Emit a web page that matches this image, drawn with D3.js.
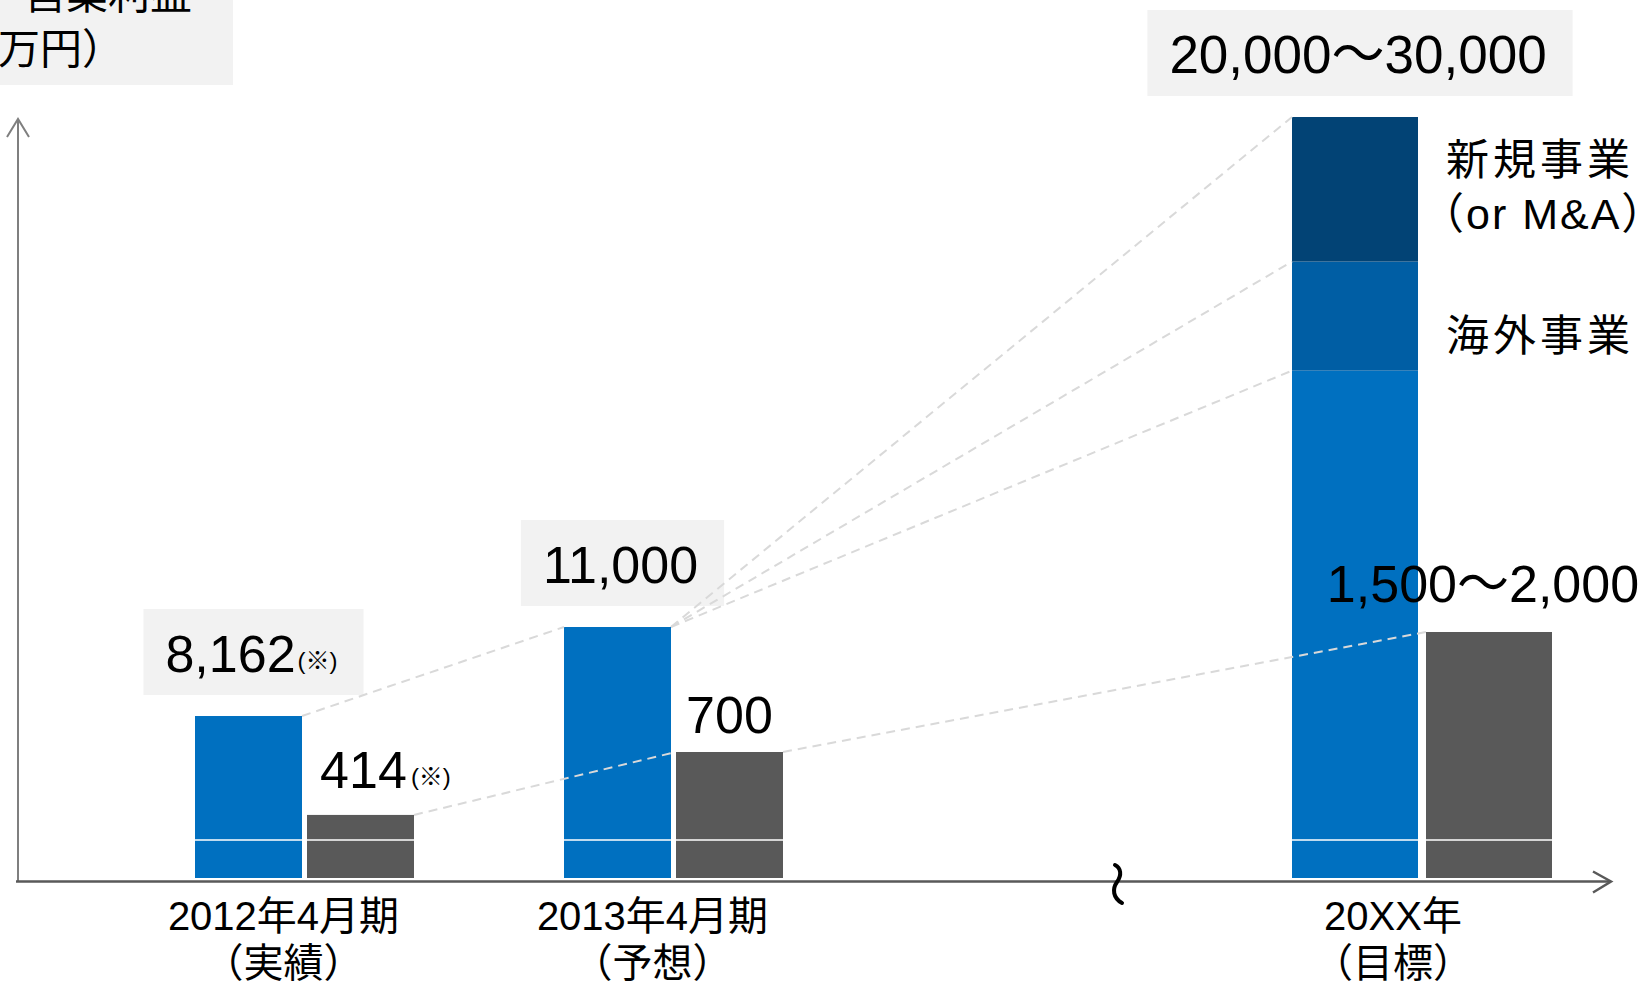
<!DOCTYPE html>
<html>
<head>
<meta charset="utf-8">
<script src="https://cdn.jsdelivr.net/npm/d3@7"></script>
<style>
  html, body { margin: 0; padding: 0; background: #fff; overflow: hidden; }
  svg { display: block; }
  text { font-family: "Liberation Sans", Arial, "Noto Sans CJK JP", sans-serif; fill: #000; }
  .cjk { font-family: "Noto Sans CJK JP", sans-serif; }
</style>
</head>
<body>
<svg id="chart" width="1646" height="983"></svg>
<script>
// Periods along the horizontal axis and their notes
const periods = ["2012年4月期", "2013年4月期", "20XX年"];
const periodNotes = ["（実績）", "（予想）", "（目標）"];

// Left (blue) and right (grey) bars for the reported / forecast periods, 万円
const blueValues = [8162, 11000];
const greyValues = [414, 700];
const noteFlags = [true, false, false];
const noteMark = "(※)";

// 20XX target: ranges and the split of the blue bar
const targetBlueRange = [20000, 30000];
const targetGreyRange = [1500, 2000];
const targetSegments = ["国内事業", "海外事業", "新規事業"];
const targetSegmentValues = [20000, 4300, 5700];
const segmentLabelLines = [[], ["海外事業"], ["新規事業", "（or M&A）"]];

// Axis title lines
const axisTitleLines = ["営業利益", "万円）"];

// ---------------------------------------------------------------
const svg = d3.select("#chart");
const fmt = d3.format(",");

const colors = {
  blue: "#0070c0",
  segments: ["#0070c0", "#005ea4", "#024375"],
  grey: "#595959",
  box: "#f2f2f2",
  dash: "#d9d9d9"
};

const axisY = 881.5, axisLeft = 16, axisRight = 1611;
const yAxisX = 18, yAxisTop = 119;
const barFloor = 878, breakY = 840;

// horizontal placement: piecewise scale, the target sits beyond the axis break
const x = d3.scaleLinear().domain([0, 1, 2]).range([304.5, 673.5, 1422]);

const actualBar = { w: 107, gap: 5, labelShift: -21 };
const targetBar = { w: 126, gap: 8, labelShift: -29 };
function geom(i) {
  const g = i < 2 ? actualBar : targetBar;
  const c = x(i);
  return { c, w: g.w, gap: g.gap, labelShift: g.labelShift,
           blueX: c - g.gap / 2 - g.w, greyX: c + g.gap / 2 };
}
const G = periods.map((p, i) => geom(i));

// vertical scales (the lower part of every bar is cut by the break line)
const yBlue = d3.scaleLinear().domain([0, d3.max(blueValues)]).range([972, 627]);
const yGrey = d3.scaleLinear().domain([0, d3.max(greyValues)]).range([906, 752]);
const yBlueT = d3.scaleLinear().domain([0, targetBlueRange[1]]).range([barFloor, 117]);
const yGreyT = d3.scaleLinear().domain([0, targetGreyRange[1]]).range([barFloor, 632]);

// stacked segments of the target bar
let acc = 0;
const segs = targetSegmentValues.map((v, k) => {
  const s = { k, name: targetSegments[k], y0: acc, y1: acc + v };
  acc += v;
  return s;
});

// ---------------- axis title ----------------
svg.append("rect").attr("x", 0).attr("y", 0).attr("width", 233).attr("height", 85)
  .attr("fill", colors.box);
svg.append("text").attr("class", "cjk").attr("x", 24).attr("y", 9)
  .attr("font-size", 42).text(axisTitleLines[0]);
svg.append("text").attr("class", "cjk").attr("x", -2).attr("y", 64)
  .attr("font-size", 42).text(axisTitleLines[1]);

// ---------------- bars ----------------
const gBars = svg.append("g");
blueValues.forEach((v, i) => {
  gBars.append("rect").attr("x", G[i].blueX).attr("y", yBlue(v))
    .attr("width", G[i].w).attr("height", barFloor - yBlue(v)).attr("fill", colors.blue);
});
greyValues.forEach((v, i) => {
  gBars.append("rect").attr("x", G[i].greyX).attr("y", yGrey(v))
    .attr("width", G[i].w).attr("height", barFloor - yGrey(v)).attr("fill", colors.grey);
});
gBars.selectAll("rect.seg").data(segs).join("rect").attr("class", "seg")
  .attr("x", G[2].blueX).attr("y", d => yBlueT(d.y1))
  .attr("width", G[2].w).attr("height", d => yBlueT(d.y0) - yBlueT(d.y1))
  .attr("fill", d => colors.segments[d.k]);
gBars.append("rect").attr("x", G[2].greyX).attr("y", yGreyT(targetGreyRange[1]))
  .attr("width", G[2].w).attr("height", barFloor - yGreyT(targetGreyRange[1]))
  .attr("fill", colors.grey);

// break line across the bars
G.forEach(g => {
  svg.append("line").attr("x1", g.blueX).attr("x2", g.greyX + g.w)
    .attr("y1", breakY).attr("y2", breakY)
    .attr("stroke", "#fff").attr("stroke-width", 1.6);
});

// ---------------- axes ----------------
const gAxis = svg.append("g").attr("fill", "none").attr("stroke-linecap", "butt");
gAxis.append("line").attr("x1", yAxisX).attr("x2", yAxisX).attr("y1", axisY).attr("y2", yAxisTop)
  .attr("stroke", "#7f7f7f").attr("stroke-width", 2);
gAxis.append("path").attr("d", d3.line()([[yAxisX - 11, yAxisTop + 18], [yAxisX, yAxisTop], [yAxisX + 11, yAxisTop + 18]]))
  .attr("stroke", "#7f7f7f").attr("stroke-width", 2);
gAxis.append("line").attr("x1", axisLeft).attr("x2", axisRight).attr("y1", axisY).attr("y2", axisY)
  .attr("stroke", colors.grey).attr("stroke-width", 2.5);
gAxis.append("path").attr("d", d3.line()([[axisRight - 18, axisY - 10], [axisRight, axisY], [axisRight - 18, axisY + 11]]))
  .attr("stroke", colors.grey).attr("stroke-width", 2.5);

// axis break mark
gAxis.append("path")
  .attr("d", "M1115,865 C1121,868 1122,875 1117,882 C1112,889 1113,898 1122,903")
  .attr("stroke", "#000").attr("stroke-width", 4).attr("stroke-linecap", "round");

// ---------------- category labels ----------------
periods.forEach((p, i) => {
  const lx = G[i].c + G[i].labelShift;
  svg.append("text").attr("x", lx).attr("y", 930).attr("text-anchor", "middle")
    .attr("font-size", 40).text(p);
  svg.append("text").attr("x", lx).attr("y", 977).attr("text-anchor", "middle")
    .attr("font-size", 40).text(periodNotes[i]);
});

// ---------------- value labels ----------------
const blueTops = [yBlue(blueValues[0]), yBlue(blueValues[1]), yBlueT(targetBlueRange[1])];
const blueTexts = [fmt(blueValues[0]), fmt(blueValues[1]),
  fmt(targetBlueRange[0]) + "〜" + fmt(targetBlueRange[1])];
const greyTops = [yGrey(greyValues[0]), yGrey(greyValues[1]), yGreyT(targetGreyRange[1])];
const greyTexts = [fmt(greyValues[0]), fmt(greyValues[1]),
  fmt(targetGreyRange[0]) + "〜" + fmt(targetGreyRange[1])];
// placement of the grey numbers relative to the bar's top centre
const greyLabelShift = [{ dx: 3, dy: -27 }, { dx: 0, dy: -19 }, { dx: -6, dy: -30 }];

const gBoxes = svg.append("g");
const gLinks = svg.append("g");
const gLabels = svg.append("g");

blueTexts.forEach((t, i) => {
  const base = blueTops[i] - 44;
  const txt = gLabels.append("text").attr("x", G[i].blueX + G[i].w / 2 + 3)
    .attr("y", base).attr("text-anchor", "middle").attr("font-size", i < 2 ? 52 : 53);
  txt.append("tspan").text(t);
  if (noteFlags[i]) txt.append("tspan").attr("font-size", 24).attr("dx", 2).attr("dy", -3).text(noteMark);
  const bb = txt.node().getBBox();
  gBoxes.append("rect").attr("x", bb.x - 22).attr("y", base - 63)
    .attr("width", bb.width + 48).attr("height", 86).attr("fill", colors.box);
});

greyTexts.forEach((t, i) => {
  const base = greyTops[i] + greyLabelShift[i].dy;
  const cx = G[i].greyX + G[i].w / 2 + greyLabelShift[i].dx;
  const txt = gLabels.append("text").attr("x", cx).attr("y", base)
    .attr("text-anchor", "middle").attr("font-size", 52).text(t);
  if (noteFlags[i]) {
    const len = txt.node().getComputedTextLength();
    gLabels.append("text").attr("x", cx + len / 2 + 4).attr("y", base - 3)
      .attr("font-size", 24).text(noteMark);
  }
});

// segment labels beside the target bar
segs.forEach(s => {
  const lines = segmentLabelLines[s.k];
  if (!lines.length) return;
  const mid = (yBlueT(s.y0) + yBlueT(s.y1)) / 2;
  const lastBase = mid + 35 + (lines.length - 1) * 5;
  lines.forEach((ln, j) => {
    const b = lastBase - (lines.length - 1 - j) * 54;
    const paren = ln.startsWith("（");
    gLabels.append("text")
      .attr("x", G[2].blueX + G[2].w + (paren ? 3 : 28))
      .attr("y", b).attr("font-size", 43)
      .attr("letter-spacing", paren ? 2 : 4)
      .text(ln);
  });
});

// ---------------- dashed connectors ----------------
const links = [
  [[G[0].blueX + G[0].w, yBlue(blueValues[0])], [G[1].blueX, yBlue(blueValues[1])]],
  [[G[0].greyX + G[0].w, yGrey(greyValues[0])], [G[1].greyX, yGrey(greyValues[1])]],
  [[G[1].greyX + G[1].w, yGrey(greyValues[1])], [G[2].greyX, yGreyT(targetGreyRange[1])]],
  ...segs.map(s => [[G[1].blueX + G[1].w, yBlue(blueValues[1])], [G[2].blueX, yBlueT(s.y1)]])
];
gLinks.selectAll("path").data(links).join("path")
  .attr("d", d => d3.line()(d))
  .attr("fill", "none").attr("stroke", colors.dash)
  .attr("stroke-width", 2).attr("stroke-dasharray", "9 6");

// connectors sit above the boxes but below the numbers
gLinks.raise();
gLabels.raise();
</script>
</body>
</html>
